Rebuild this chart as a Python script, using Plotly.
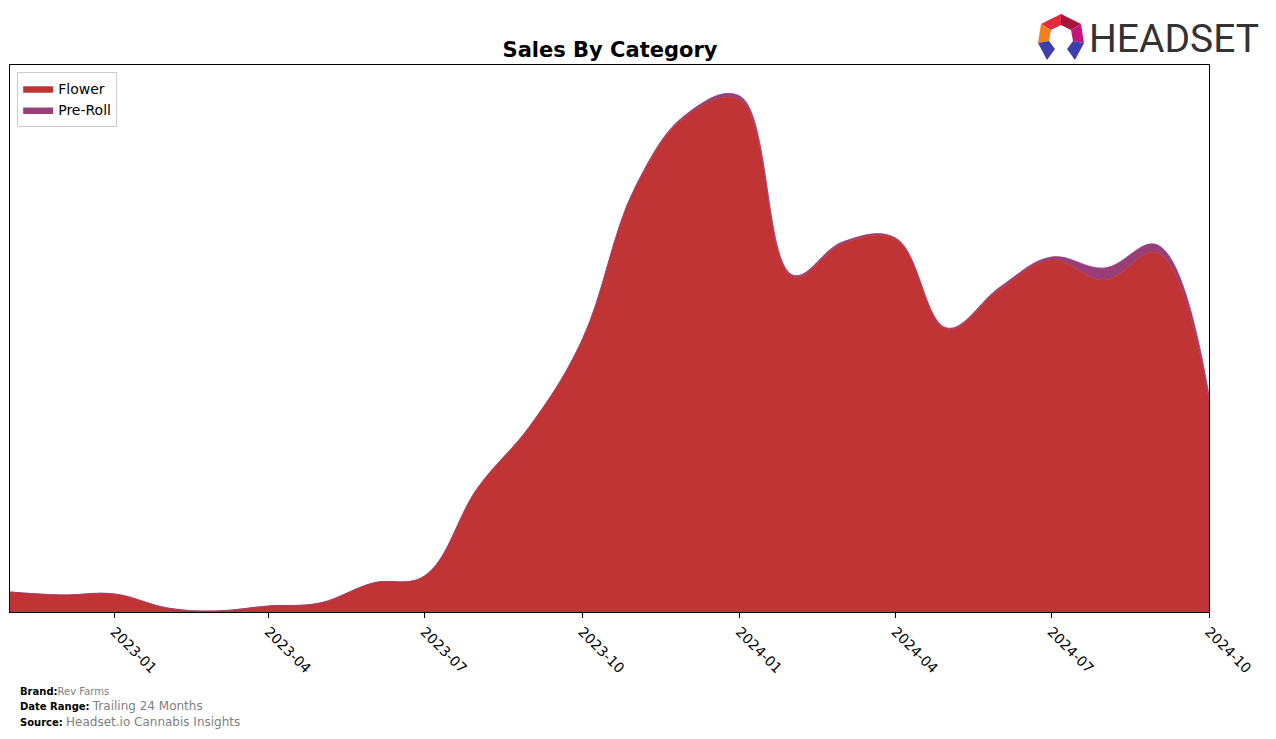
import plotly.graph_objects as go

months = ["2022-11-01", "2022-12-01", "2023-01-01", "2023-02-01", "2023-03-01", "2023-04-01",
          "2023-05-01", "2023-06-01", "2023-07-01", "2023-08-01", "2023-09-01", "2023-10-01",
          "2023-11-01", "2023-12-01", "2024-01-01", "2024-02-01", "2024-03-01", "2024-04-01",
          "2024-05-01", "2024-06-01", "2024-07-01", "2024-08-01", "2024-09-01", "2024-10-01"]
flower = [20, 17, 18, 4, 1, 6, 9, 29, 36, 124, 187, 272,
          424, 496, 512, 335, 368, 373, 283, 323, 352, 332, 359, 212]
preroll = [0, 0, 0, 0, 0, 0, 0, 0, 0, 0, 0, 0,
           1, 2, 4, 2, 2, 1, 1, 2, 3, 12, 8, 5]
tick_vals = ["2023-01-01", "2023-04-01", "2023-07-01", "2023-10-01",
             "2024-01-01", "2024-04-01", "2024-07-01", "2024-10-01"]
tick_text = ["2023-01", "2023-04", "2023-07", "2023-10", "2024-01", "2024-04", "2024-07", "2024-10"]

FLOWER_C = "#c03436"
PREROLL_C = "#983f7a"

W, H = 1276, 739
L, R, T, B = 10, 1209, 65, 612


def px(x):
    return (x - L) / (R - L)


def py(y):
    return (B - y) / (B - T)


fig = go.Figure()
fig.add_trace(go.Scatter(x=months, y=flower, name="Flower", stackgroup="one",
                         mode="lines", line=dict(color=FLOWER_C, width=0.8, shape="spline", smoothing=1.1),
                         fillcolor=FLOWER_C))
fig.add_trace(go.Scatter(x=months, y=preroll, name="Pre-Roll", stackgroup="one",
                         mode="lines", line=dict(color=PREROLL_C, width=0.8, shape="spline", smoothing=1.1),
                         fillcolor=PREROLL_C))

# logo polygons (pixel coordinates)
logo_parts = [
    ([(1041, 24), (1061, 14), (1061, 25), (1051, 30)], "#e42a3c"),
    ([(1061, 14), (1081, 24), (1071, 30), (1061, 25)], "#a8143e"),
    ([(1041, 24), (1051, 30), (1049, 41), (1038, 43)], "#f3801f"),
    ([(1081, 24), (1084, 43), (1073, 41), (1071, 30)], "#c1157c"),
    ([(1038, 43), (1049, 41), (1055, 49), (1047, 60)], "#3d3fae"),
    ([(1084, 43), (1073, 41), (1067, 49), (1075, 60)], "#3d3fae"),
]
shapes = []
for pts, col in logo_parts:
    path = "M " + " L ".join(f"{px(x):.5f},{py(y):.5f}" for x, y in pts) + " Z"
    shapes.append(dict(type="path", xref="paper", yref="paper", path=path,
                       fillcolor=col, line=dict(width=0)))

annotations = [
    dict(text="HEADSET", x=px(1261), y=py(39), xref="paper", yref="paper",
         xanchor="right", yanchor="middle", showarrow=False,
         font=dict(family="Roboto", size=39, color="#333333")),
    dict(text="<b>Brand:</b><span style='color:#808080;font-size:10px'>Rev Farms</span>",
         x=px(18), y=py(691), xref="paper", yref="paper", xanchor="left", yanchor="middle",
         showarrow=False, font=dict(family="DejaVu Sans", size=10, color="black")),
    dict(text="<b>Date Range:</b> <span style='color:#808080;font-size:12px'>Trailing 24 Months</span>",
         x=px(18), y=py(706), xref="paper", yref="paper", xanchor="left", yanchor="middle",
         showarrow=False, font=dict(family="DejaVu Sans", size=10, color="black")),
    dict(text="<b>Source:</b> <span style='color:#808080;font-size:12px'>Headset.io Cannabis Insights</span>",
         x=px(18), y=py(722), xref="paper", yref="paper", xanchor="left", yanchor="middle",
         showarrow=False, font=dict(family="DejaVu Sans", size=10, color="black")),
]

fig.update_layout(
    width=W, height=H,
    margin=dict(l=L, r=W - R, t=T, b=H - B),
    paper_bgcolor="white", plot_bgcolor="white",
    title=dict(text="<b>Sales By Category</b>", x=px(610), xref="paper", xanchor="center",
               y=1 - 50 / H, yanchor="middle",
               font=dict(family="DejaVu Sans", size=21, color="black")),
    font=dict(family="DejaVu Sans", color="black"),
    legend=dict(x=0.006, y=0.987, xanchor="left", yanchor="top", traceorder="normal",
                bordercolor="#cccccc", borderwidth=1, bgcolor="rgba(255,255,255,0.8)",
                font=dict(size=14, family="DejaVu Sans"), tracegroupgap=0, itemwidth=30),
    xaxis=dict(range=["2022-11-01", "2024-10-01"], tickmode="array", tickvals=tick_vals,
               ticktext=tick_text, tickangle=45, ticks="outside", ticklen=5, tickcolor="black",
               showline=True, linecolor="black", linewidth=1, mirror=True, showgrid=False,
               zeroline=False, tickfont=dict(size=14, family="DejaVu Sans", color="black")),
    yaxis=dict(range=[0, 547], showticklabels=False, ticks="", showline=True, linecolor="black",
               linewidth=1, mirror=True, showgrid=False, zeroline=False),
    shapes=shapes,
    annotations=annotations,
)

fig.write_html("out.html")
